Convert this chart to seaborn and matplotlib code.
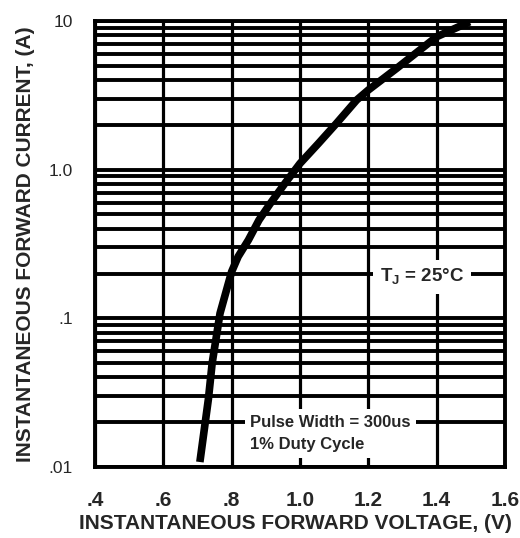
import matplotlib
matplotlib.use("Agg")
import matplotlib.pyplot as plt
import matplotlib.ticker as mticker
import seaborn as sns
import pandas as pd

# Forward voltage (V) vs forward current (A)
voltage = [0.707, 0.732, 0.743, 0.766, 0.785, 0.800, 0.819, 0.849, 0.880,
           0.912, 0.956, 1.000, 1.054, 1.107, 1.166, 1.200, 1.283, 1.400,
           1.497]
current = [0.0108, 0.0287, 0.050, 0.108, 0.155, 0.206, 0.260, 0.336, 0.458,
           0.587, 0.809, 1.10, 1.50, 2.05, 2.94, 3.43, 4.80, 7.83, 9.88]

x_ticks = [0.4, 0.6, 0.8, 1.0, 1.2, 1.4, 1.6]
x_tick_labels = [".4", ".6", ".8", "1.0", "1.2", "1.4", "1.6"]
y_ticks = [0.01, 0.1, 1.0, 10]
y_tick_labels = [".01", ".1", "1.0", "10"]

df = pd.DataFrame({"voltage": voltage, "current": current})

sns.set_style("white")
plt.rcParams["font.family"] = ["Liberation Sans", "DejaVu Sans"]

fig = plt.figure(figsize=(5.2, 5.38), dpi=100)
ax = fig.add_axes([0.1827, 0.132, 0.7883, 0.829])

ax.set_yscale("log")
ax.set_xlim(0.4, 1.6)
ax.set_ylim(0.01, 10)

# heavy chart-paper grid
ax.yaxis.set_minor_locator(mticker.LogLocator(base=10, subs=range(2, 10)))
ax.yaxis.set_minor_formatter(mticker.NullFormatter())
ax.grid(True, which="major", axis="x", color="black", linewidth=2.3)
ax.grid(True, which="both", axis="y", color="black", linewidth=2.8)
ax.set_axisbelow(True)

sns.lineplot(data=df, x="voltage", y="current", ax=ax, color="black",
             linewidth=5.5, solid_capstyle="butt", solid_joinstyle="round",
             zorder=3)

ax.set_xticks(x_ticks)
ax.set_xticklabels(x_tick_labels, fontsize=15, fontweight="bold")
ax.set_yticks(y_ticks)
ax.set_yticklabels(y_tick_labels, fontsize=12.5)
ax.tick_params(axis="both", which="both", length=0)
ax.tick_params(axis="x", pad=17)
ax.tick_params(axis="y", pad=16)

for s in ax.spines.values():
    s.set_color("black")
    s.set_linewidth(2.8)

ax.set_xlabel("INSTANTANEOUS FORWARD VOLTAGE, (V)", fontsize=15,
              fontweight="bold", labelpad=3)
ax.xaxis.label.set_x(0.488)
ax.set_ylabel("INSTANTANEOUS FORWARD CURRENT, (A)", fontsize=15,
              fontweight="bold", labelpad=10)

ax.text(1.357, 0.19, "T$_\\mathregular{J}$ = 25°C", fontsize=13.5,
        fontweight="bold", ha="center", va="center",
        bbox=dict(facecolor="white", edgecolor="none", pad=5), zorder=4)
ax.text(0.854, 0.0168, "Pulse Width = 300us\n1% Duty Cycle", fontsize=12,
        fontweight="bold", ha="left", va="center", linespacing=1.6,
        bbox=dict(facecolor="white", edgecolor="none", pad=4), zorder=4)

fig.savefig("out.png", dpi=100)
